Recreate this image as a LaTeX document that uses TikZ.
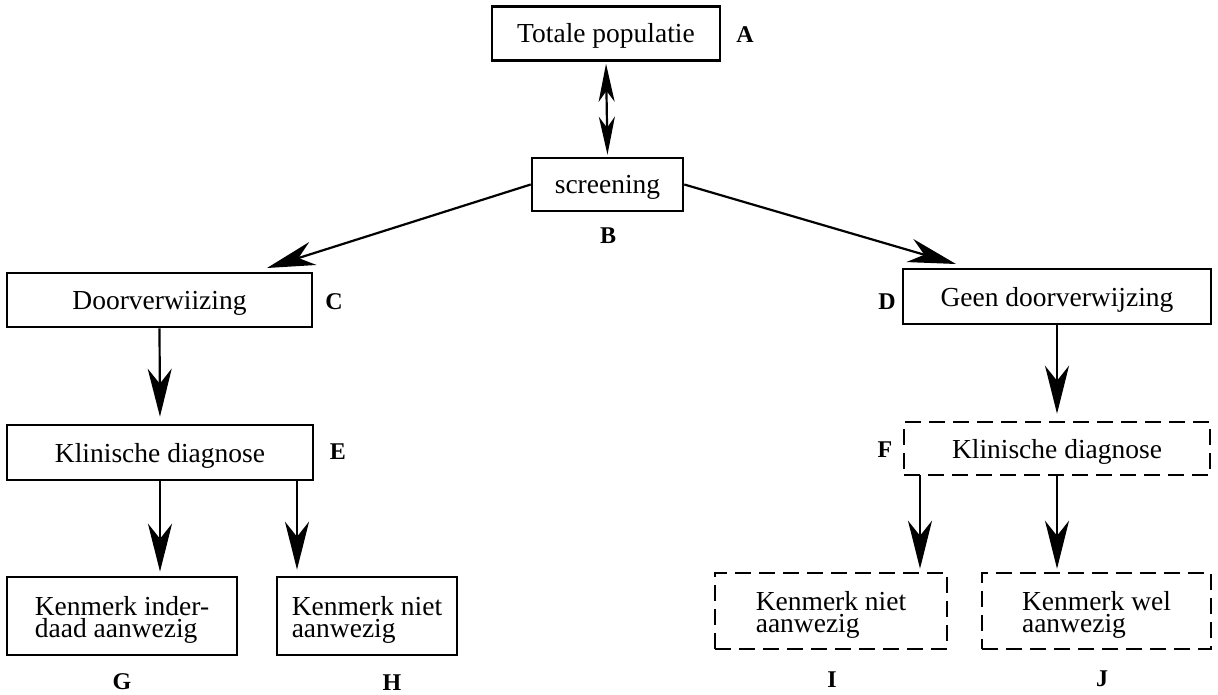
\documentclass[tikz,border=0pt]{standalone}
\usepackage{fontspec}
\setmainfont{Liberation Serif}
\usetikzlibrary{arrows.meta,calc}
\newcommand{\toprule}{\rule{0pt}{27pt}}
\begin{document}
\begin{tikzpicture}[x=1pt,y=-1pt,
  box/.style={draw=black,line width=2.6pt,inner sep=0pt,font=\fontsize{27.5}{22}\selectfont,align=left},
  one/.style={text height=21pt,text depth=2pt},
  dbox/.style={box,dash pattern=on 16pt off 8pt},
  lab/.style={font=\fontsize{24}{24}\selectfont\bfseries,inner sep=0pt},
  arr/.style={line width=2.2pt,-{Stealth[length=48pt,width=24pt,inset=15pt]}},
  darr/.style={line width=2.2pt,{Stealth[length=38pt,width=16pt,inset=11pt]}-{Stealth[length=38pt,width=16pt,inset=11pt]}}]
\useasboundingbox (0,0) rectangle (1218,695);
\fill[white] (0,0) rectangle (1218,695);
% boxes
\node[box,one,minimum width=228pt,minimum height=54pt] (A) at (606,33.5) {Totale populatie};
\node[box,one,minimum width=151pt,minimum height=53pt] (B) at (607.5,184.5) {screening};
\node[box,one,minimum width=305pt,minimum height=54pt] (C) at (159.5,300) {Doorverwiizing};
\node[box,one,minimum width=308pt,minimum height=55pt] (D) at (1057,296.5) {Geen doorverwijzing};
\node[box,one,minimum width=306pt,minimum height=55pt] (E) at (160,452.5) {Klinische diagnose};
\node[dbox,one,minimum width=306pt,minimum height=53pt] (F) at (1057,448.5) {Klinische diagnose};
\node[box,minimum width=230pt,minimum height=78pt] (G) at (122,616) {\toprule Kenmerk inder-\\daad aanwezig};
\node[box,minimum width=180pt,minimum height=78pt] (H) at (367,616) {\toprule Kenmerk niet\\aanwezig};
\node[dbox,minimum width=232pt,minimum height=76pt] (I) at (831,611) {\toprule Kenmerk niet\\aanwezig};
\node[dbox,minimum width=229pt,minimum height=76pt] (J) at (1096.5,611) {\toprule Kenmerk wel\\aanwezig};
% labels
\node[lab] (lA) at (745,35) {A};
\node[lab] (lB) at (608,236) {B};
\node[lab] (lC) at (334,302) {C};
\node[lab] (lD) at (887,302) {D};
\node[lab] (lE) at (338,452) {E};
\node[lab] (lF) at (885,450) {F};
\node[lab] (lG) at (122,682) {G};
\node[lab] (lH) at (392,683) {H};
\node[lab] (lI) at (832,680) {I};
\node[lab] (lJ) at (1102,679) {J};
% connectors
\coordinate (ctip) at (267,268);
\coordinate (dtip) at (956,264);
\coordinate (eh) at (297,480);
\coordinate (fi) at (920,475);
\draw[darr,shorten <=2pt,shorten >=2pt] (A.south) -- (B.north);
\draw[arr] (B.west) -- (ctip);
\draw[arr] (B.east) -- (dtip);
\draw[arr,shorten >=7pt] (C.south) -- (E.north);
\draw[arr,shorten >=7pt] (D.south) -- (F.north);
\draw[arr,shorten >=4pt] (E.south) -- (E.south |- G.north);
\draw[arr,shorten >=6pt] (eh) -- (eh |- H.north);
\draw[arr,shorten >=3pt] (fi) -- (fi |- I.north);
\draw[arr,shorten >=3pt] (F.south) -- (F.south |- J.north);
\end{tikzpicture}
\end{document}
